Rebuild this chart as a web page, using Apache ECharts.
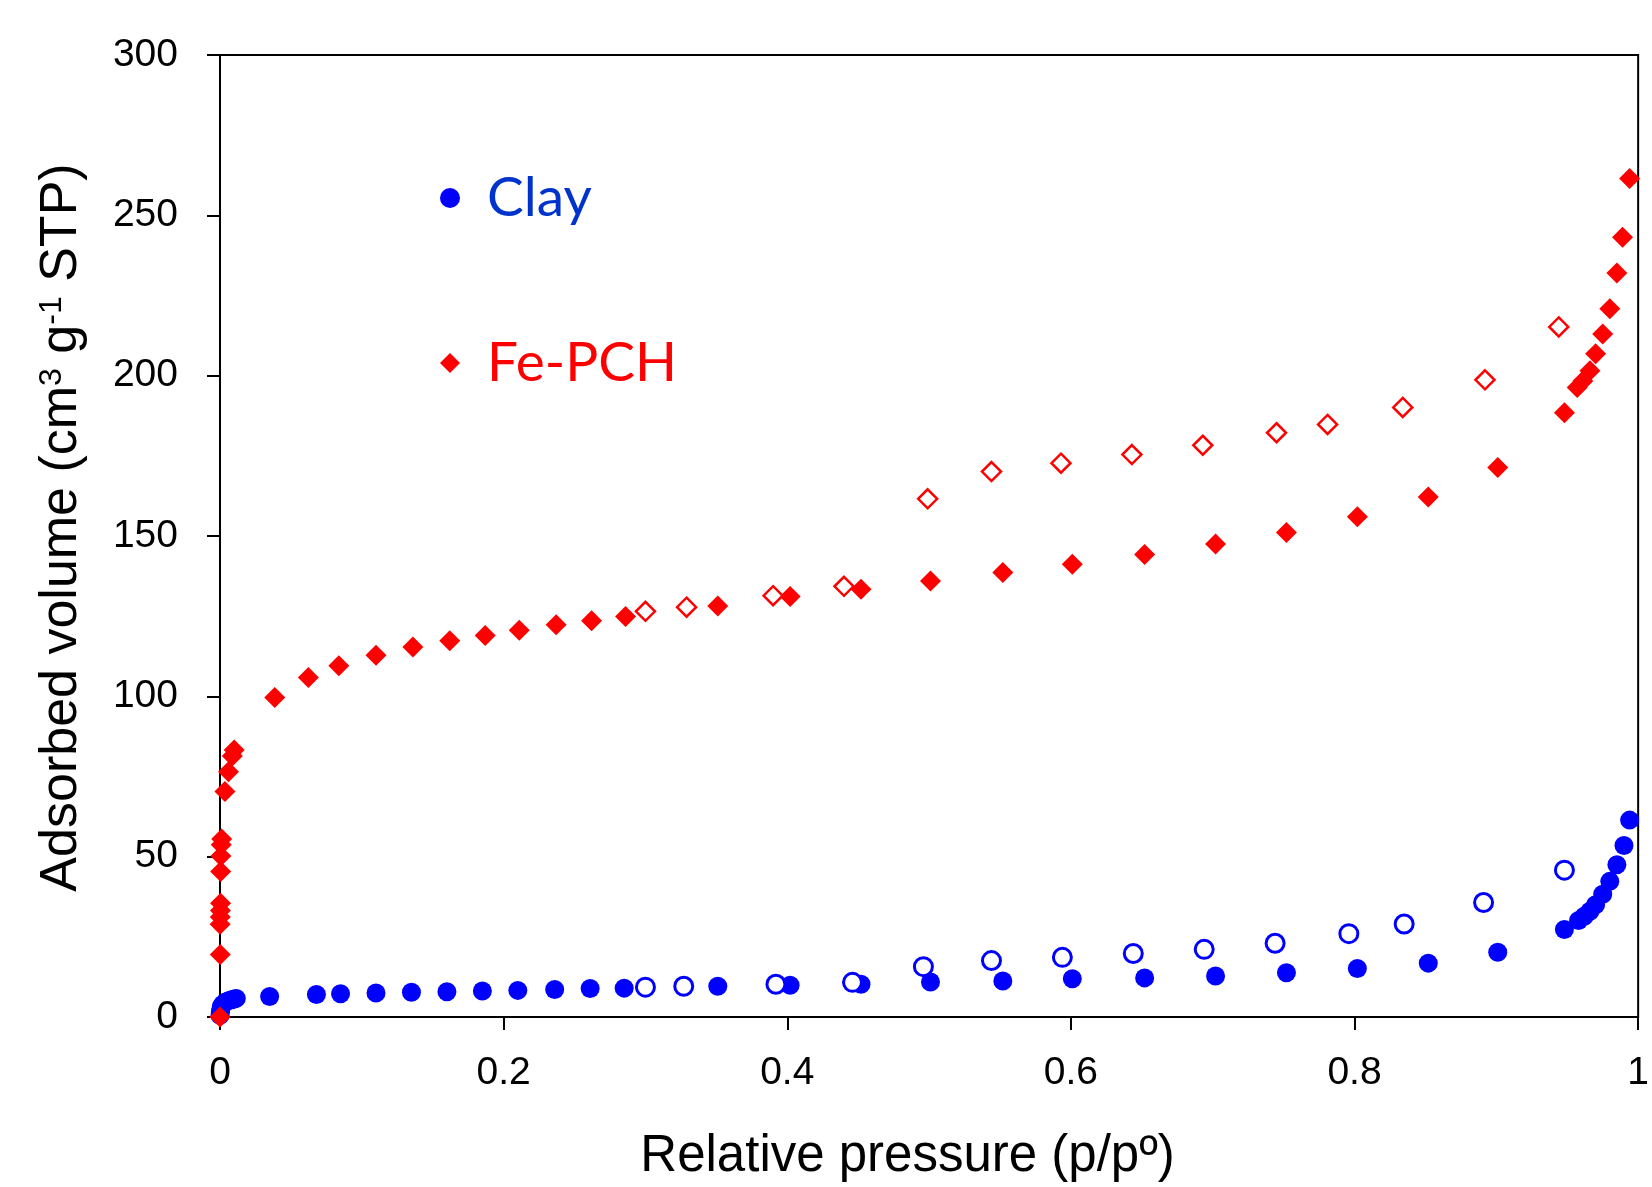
<!DOCTYPE html>
<html>
<head>
<meta charset="utf-8">
<script src="https://cdn.jsdelivr.net/npm/echarts@6/dist/echarts.min.js"></script>
<style>
html,body{margin:0;padding:0;background:#fff;}
#chart{width:1652px;height:1187px;}
</style>
</head>
<body>
<div id="chart"></div>
<script>
// Clay adsorption (filled circles) [p/p0, volume]
var clayAds = [
  [0,0.5],[0.0003,1.5],[0.0006,2.5],[0.001,3.3],[0.002,4.0],[0.004,4.7],[0.006,5.1],[0.008,5.4],[0.010,5.6],[0.0115,5.8],
  [0.035,6.4],[0.068,7.0],[0.085,7.25],[0.110,7.5],[0.135,7.7],[0.160,7.9],[0.185,8.1],
  [0.210,8.3],[0.236,8.6],[0.261,8.9],[0.285,9.0],[0.351,9.6],[0.402,9.9],[0.452,10.2],
  [0.501,10.9],[0.552,11.2],[0.601,11.9],[0.652,12.2],[0.702,12.8],[0.752,13.8],[0.802,15.1],
  [0.852,16.8],[0.901,20.2],[0.948,27.3],[0.958,30.1],[0.962,31.4],[0.966,33.0],[0.970,35.0],
  [0.975,38.3],[0.980,42.3],[0.985,47.5],[0.990,53.5],[0.994,61.4]
];
// Clay desorption (open circles)
var clayDes = [
  [0.300,9.3],[0.327,9.6],[0.392,10.2],[0.446,10.8],[0.496,15.7],[0.544,17.6],[0.594,18.6],
  [0.644,19.8],[0.694,21.1],[0.744,23.0],[0.796,26.0],[0.835,29.0],[0.891,35.7],[0.948,45.8]
];
// Fe-PCH adsorption (filled diamonds)
var fepchAds = [
  [0,0],[0.0002,19.5],[0.0001,28.9],[0.0002,31.2],[0.0003,33.2],[0.0004,35.5],[0.0005,45.4],
  [0.0006,50.2],[0.0009,53.7],[0.0012,55.5],[0.0035,70.3],[0.0060,76.5],[0.0087,81.4],[0.0100,83.3],
  [0.0386,99.6],[0.0623,105.9],[0.0838,109.5],[0.110,112.8],[0.136,115.4],[0.162,117.3],
  [0.187,119.0],[0.211,120.6],[0.237,122.3],[0.262,123.6],[0.286,124.9],[0.351,128.2],
  [0.402,131.1],[0.452,133.4],[0.501,136.0],[0.552,138.6],[0.601,141.2],[0.652,144.2],
  [0.702,147.5],[0.752,151.1],[0.802,156.0],[0.852,162.2],[0.901,171.4],[0.948,188.4],
  [0.957,196.3],[0.961,198.3],[0.966,201.5],[0.970,206.8],[0.975,213.0],[0.980,220.9],
  [0.985,232.0],[0.989,243.2],[0.994,261.5]
];
// Fe-PCH desorption (open diamonds)
var fepchDes = [
  [0.300,126.5],[0.329,127.8],[0.390,131.4],[0.440,134.3],[0.499,161.6],[0.544,170.1],
  [0.593,172.7],[0.643,175.4],[0.693,178.3],[0.745,182.2],[0.781,184.8],[0.834,190.1],
  [0.892,198.7],[0.944,215.2]
];
var xTicks = [0, 0.2, 0.4, 0.6, 0.8, 1];
var yTicks = [0, 50, 100, 150, 200, 250, 300];
var legendNames = ['Clay', 'Fe-PCH'];

var chart = echarts.init(document.getElementById('chart'), null, {renderer:'canvas'});
var tickFont = 'Liberation Sans, Arial, sans-serif';
chart.setOption({
  backgroundColor: '#ffffff',
  animation: false,
  grid: {left:220, right:9, top:55, bottom:167, show:true, borderColor:'#000', borderWidth:2, backgroundColor:'transparent'},
  legend: {
    orient:'vertical', left:440, top:168, padding:0, itemGap:105, itemWidth:20, itemHeight:20,
    selectedMode:false,
    textStyle:{fontFamily:'Lato, Open Sans, sans-serif', fontSize:55, lineHeight:60, padding:[0,0,0,22]},
    data:[
      {name:legendNames[0], icon:'circle', textStyle:{color:'#0033CC'}},
      {name:legendNames[1], icon:'diamond', textStyle:{color:'#FF0000'}}
    ]
  },
  xAxis: {
    type:'value', min:xTicks[0], max:xTicks[xTicks.length-1], interval:0.2,
    axisLine:{onZero:false, lineStyle:{color:'#000', width:2}},
    axisTick:{show:true, inside:false, length:13, lineStyle:{color:'#000', width:2}},
    splitLine:{show:false},
    axisLabel:{color:'#000', fontSize:39, fontFamily:tickFont, margin:37,
      formatter:function(v){ return (v===0||v===1) ? String(v) : v.toFixed(1); }},
    name:'Relative pressure (p/pº)', nameLocation:'middle', nameGap:114,
    nameTextStyle:{color:'#000', fontSize:51, fontFamily:tickFont, padding:[0,43,0,0]}
  },
  yAxis: {
    type:'value', min:yTicks[0], max:yTicks[yTicks.length-1], interval:50,
    axisLine:{show:true, onZero:false, lineStyle:{color:'#000', width:2}},
    axisTick:{show:true, inside:false, length:13, lineStyle:{color:'#000', width:2}},
    splitLine:{show:false},
    axisLabel:{color:'#000', fontSize:39, fontFamily:tickFont, margin:42},
    name:'{n|Adsorbed volume (cm}{s|3}{n| g}{s|-1}{n| STP)}', nameLocation:'middle', nameRotate:90, nameGap:132,
    nameTextStyle:{color:'#000', fontFamily:tickFont, padding:[0,0,0,17],
      rich:{n:{fontSize:52, fontFamily:tickFont, color:'#000', verticalAlign:'bottom'},
            s:{fontSize:32, fontFamily:tickFont, color:'#000', verticalAlign:'top', padding:[0,0,18,0]}}}
  },
  series: [
    {name:'Clay', type:'scatter', data:clayAds, symbol:'circle', symbolSize:19,
     itemStyle:{color:'#0000FF', opacity:1}, z:2},
    {name:'Clay (desorption)', type:'scatter', data:clayDes, symbol:'circle', symbolSize:18,
     itemStyle:{color:'#FFFFFF', borderColor:'#0000FF', borderWidth:3, opacity:1}, z:2},
    {name:'Fe-PCH', type:'scatter', data:fepchAds, symbol:'diamond', symbolSize:21,
     itemStyle:{color:'#FF0000', opacity:1}, z:3},
    {name:'Fe-PCH (desorption)', type:'scatter', data:fepchDes, symbol:'diamond', symbolSize:19,
     itemStyle:{color:'#FFFFFF', borderColor:'#FF0000', borderWidth:2.5, opacity:1}, z:3}
  ]
});
</script>
</body>
</html>
